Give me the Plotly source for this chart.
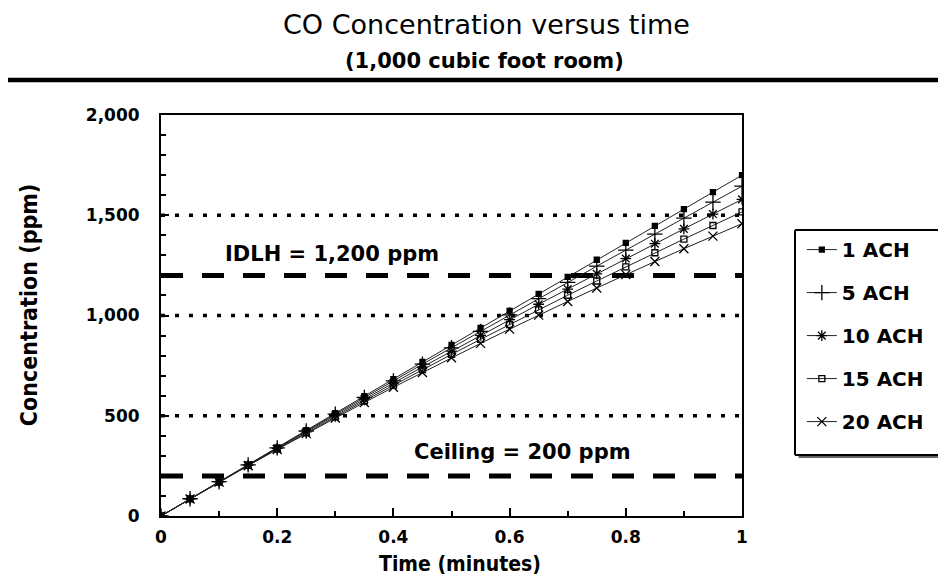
import plotly.graph_objects as go

time_min = [0, 0.05, 0.1, 0.15, 0.2, 0.25, 0.3, 0.35, 0.4, 0.45, 0.5,
            0.55, 0.6, 0.65, 0.7, 0.75, 0.8, 0.85, 0.9, 0.95, 1.0]

ach_1 = [0, 86, 171, 257, 342, 428, 513, 598, 683, 768, 853,
         938, 1023, 1108, 1193, 1278, 1362, 1447, 1531, 1615, 1700]
ach_5 = [0, 86, 171, 255, 340, 424, 508, 591, 674, 757, 839,
         921, 1003, 1084, 1165, 1246, 1326, 1406, 1486, 1565, 1645]
ach_10 = [0, 85, 170, 254, 337, 420, 502, 583, 663, 743, 822,
          901, 979, 1056, 1132, 1208, 1284, 1358, 1432, 1506, 1579]
ach_15 = [0, 85, 169, 252, 334, 415, 495, 574, 652, 730, 806,
          881, 955, 1028, 1101, 1172, 1243, 1313, 1381, 1449, 1517]
ach_20 = [0, 85, 169, 251, 332, 411, 489, 566, 642, 716, 789,
          861, 932, 1002, 1070, 1137, 1204, 1269, 1333, 1396, 1458]

series_names = ["1 ACH", "5 ACH", "10 ACH", "15 ACH", "20 ACH"]
series_values = [ach_1, ach_5, ach_10, ach_15, ach_20]
series_symbols = ["square", "cross-thin-open", "asterisk-open", "square-open", "x-thin-open"]
series_sizes = [5, 11, 9, 6, 9]

dotted_levels = [500, 1000, 1500]
dashed_levels = [200, 1200]
idlh_label = "IDLH = 1,200 ppm"
ceiling_label = "Ceiling = 200 ppm"

fig = go.Figure()
for name, vals, sym, sz in zip(series_names, series_values, series_symbols, series_sizes):
    fig.add_trace(go.Scatter(
        x=time_min, y=vals, name=name, mode="lines+markers",
        legendgroup=name,
        line=dict(color="#222222", width=1),
        marker=dict(symbol=sym, size=sz, color="black",
                    line=dict(color="black", width=1.3)),
    ))

shapes = []
for lv in dotted_levels:
    shapes.append(dict(type="line", xref="x", yref="y", x0=0, x1=1, y0=lv, y1=lv,
                       line=dict(color="black", width=3.5, dash="4px,10px"), layer="below"))
for lv in dashed_levels:
    shapes.append(dict(type="line", xref="x", yref="y", x0=0, x1=1, y0=lv, y1=lv,
                       line=dict(color="black", width=5, dash="22px,19px"), layer="below"))
# header rule
shapes.append(dict(type="line", xref="paper", yref="paper", x0=-0.3, x1=1.4,
                   y0=1.087, y1=1.087, line=dict(color="black", width=4.5)))
# legend box: shadow, white fill, and left/top/bottom borders (right side runs off the page)
lg_x0, lg_x1, lg_y0, lg_y1 = 1.0912, 1.45, 0.152, 0.713
shapes.append(dict(type="rect", xref="paper", yref="paper", x0=lg_x0 + 0.006, x1=lg_x1,
                   y0=lg_y0 - 0.0075, y1=lg_y1 - 0.008, fillcolor="#666666", line=dict(width=0)))
shapes.append(dict(type="rect", xref="paper", yref="paper", x0=lg_x0, x1=lg_x1,
                   y0=lg_y0, y1=lg_y1, fillcolor="white", line=dict(width=0)))
for (ax0, ax1, ay0, ay1) in [(lg_x0, lg_x0, lg_y0, lg_y1), (lg_x0, lg_x1, lg_y1, lg_y1),
                             (lg_x0, lg_x1, lg_y0, lg_y0)]:
    shapes.append(dict(type="line", xref="paper", yref="paper", x0=ax0, x1=ax1, y0=ay0, y1=ay1,
                       line=dict(color="black", width=2)))

label_font = dict(family="DejaVu Sans", size=17, weight="bold", color="black")
title_font = dict(family="DejaVu Sans Condensed", size=21, weight="bold", color="black")

fig.update_layout(
    width=938, height=568,
    margin=dict(l=153, r=204, t=107, b=60),
    paper_bgcolor="white", plot_bgcolor="white",
    font=dict(family="DejaVu Sans", color="black"),
    showlegend=True,
    legend=dict(x=1.103, y=0.713, xanchor="left", yanchor="top",
                bgcolor="rgba(0,0,0,0)", borderwidth=0,
                font=dict(family="DejaVu Sans", size=20, weight="bold"),
                tracegroupgap=14, itemwidth=30),
    xaxis=dict(range=[0, 1], dtick=0.2, tick0=0, showgrid=False, zeroline=False,
               showline=True, linecolor="black", linewidth=2, mirror=True,
               ticks="inside", ticklen=8, tickwidth=1.5, tickcolor="black",
               minor=dict(dtick=0.1, ticks="inside", ticklen=5, tickcolor="black", showgrid=False),
               tickfont=label_font, ticklabelstandoff=5),
    yaxis=dict(range=[0, 2000], dtick=500, tick0=0, tickformat=",", showgrid=False, zeroline=False,
               showline=True, linecolor="black", linewidth=2, mirror=True,
               ticks="inside", ticklen=8, tickwidth=1.5, tickcolor="black",
               minor=dict(dtick=100, ticks="inside", ticklen=5, tickcolor="black", showgrid=False),
               tickfont=label_font, ticklabelstandoff=16),
    shapes=shapes,
    annotations=[
        dict(text="CO Concentration versus time", xref="paper", yref="paper",
             x=0.561, y=1.225, showarrow=False, xanchor="center", yanchor="middle",
             font=dict(family="DejaVu Sans", size=27, color="black")),
        dict(text="(1,000 cubic foot room)", xref="paper", yref="paper",
             x=0.556, y=1.135, showarrow=False, xanchor="center", yanchor="middle",
             font=dict(family="DejaVu Sans", size=21, weight="bold", color="black")),
        dict(text="Time (minutes)", xref="paper", yref="paper",
             x=0.515, y=-0.12, showarrow=False, xanchor="center", yanchor="middle",
             font=title_font),
        dict(text="Concentration (ppm)", xref="paper", yref="paper", textangle=-90,
             x=-0.227, y=0.526, showarrow=False, xanchor="center", yanchor="middle",
             font=dict(family="DejaVu Sans Condensed", size=23, weight="bold", color="black")),
        dict(text=idlh_label, xref="x", yref="y", x=0.107, y=1200, yshift=21,
             showarrow=False, xanchor="left", yanchor="middle",
             font=dict(family="DejaVu Sans", size=21, weight="bold")),
        dict(text=ceiling_label, xref="x", yref="y", x=0.812, y=200, yshift=24,
             showarrow=False, xanchor="right", yanchor="middle",
             font=dict(family="DejaVu Sans", size=21, weight="bold")),
    ],
)

fig.write_html("out.html")
